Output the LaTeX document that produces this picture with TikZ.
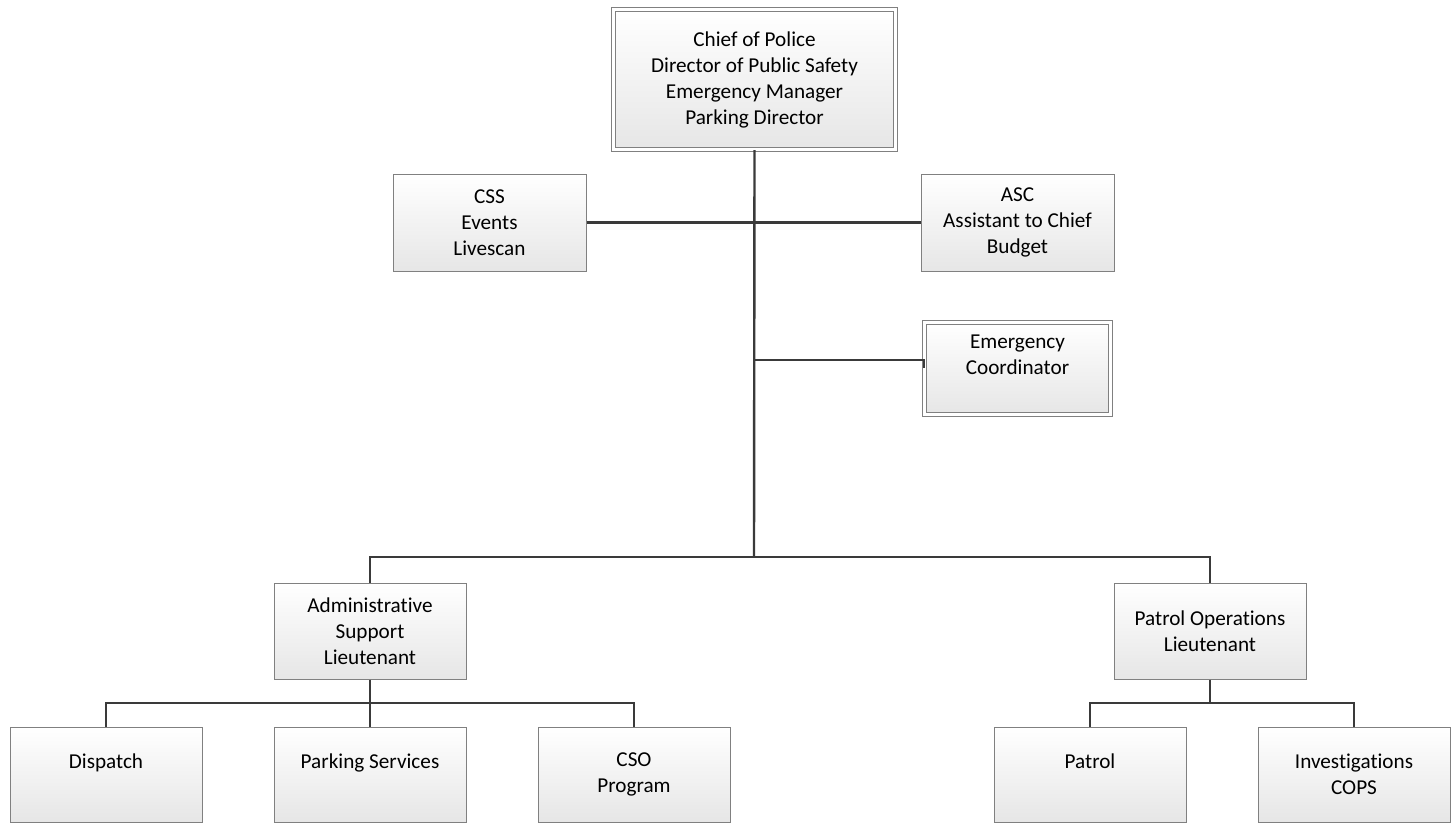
\documentclass[tikz,border=0pt]{standalone}
\usepackage{fontspec}
\setmainfont{Carlito}[Ligatures={NoCommon}]
\definecolor{boxline}{HTML}{808080}
\definecolor{connline}{HTML}{3A3A3A}
\definecolor{boxbot}{HTML}{E6E6E6}
\begin{document}
\begin{tikzpicture}[x=0.5pt,y=-0.5pt,
  orgbox/.style={rectangle, draw=boxline, line width=0.5pt, top color=white, bottom color=boxbot,
    inner sep=0pt, align=center, font=\fontsize{10.6}{13}\selectfont,
    minimum width=96pt, minimum height=48pt},
  dblbox/.style={orgbox, double=white, double distance=1.5pt},
  conn/.style={draw=connline, line width=1.2pt}]
\useasboundingbox (0,0) rectangle (1452,825);
\node[dblbox, minimum width=141pt, minimum height=70pt] (top) at (754.5,79.5)
  {Chief of Police\\Director of Public Safety\\Emergency Manager\\Parking Director};
\node[orgbox, minimum width=96.5pt, minimum height=48.5pt] (css) at (489.5,222.5) {CSS\\Events\\Livescan};
\node[orgbox, minimum width=96.5pt, minimum height=48.5pt] (asc) at (1017.5,222.5) {ASC\\Assistant to Chief\\Budget};
\node[dblbox, minimum width=93pt, minimum height=46pt] (ec) at (1017.5,368) {Emergency\\Coordinator\\ \mbox{}};
\node[orgbox] (adm) at (370,631) {Administrative\\Support\\Lieutenant};
\node[orgbox] (po) at (1210,631) {Patrol Operations\\Lieutenant};
\node[orgbox, minimum height=47.5pt] (disp) at (106,774.5) {Dispatch\\ \mbox{}};
\node[orgbox, minimum height=47.5pt] (park) at (370,774.5) {Parking Services\\ \mbox{}};
\node[orgbox, minimum height=47.5pt] (cso) at (634,774.5) {CSO\\Program};
\node[orgbox, minimum height=47.5pt] (patrol) at (1090,774.5) {Patrol\\ \mbox{}};
\node[orgbox, minimum height=47.5pt] (inv) at (1354,774.5) {Investigations\\COPS};
\coordinate (j) at (754,557);
\coordinate (ecb) at (754,360);
\coordinate (b1) at (370,703);
\coordinate (b2) at (1210,703);
\draw[conn] (top.south) -- (j);
\draw[conn] (css.east) -- (asc.west);
\draw[conn] (ecb) -- (ecb -| ec.west) -- (ec.west);
\draw[conn] (adm.north) |- (j) -| (po.north);
\draw[conn] (adm.south) -- (park.north);
\draw[conn] (disp.north) |- (b1) -| (cso.north);
\draw[conn] (po.south) -- (b2);
\draw[conn] (patrol.north) |- (b2) -| (inv.north);
\end{tikzpicture}
\end{document}
